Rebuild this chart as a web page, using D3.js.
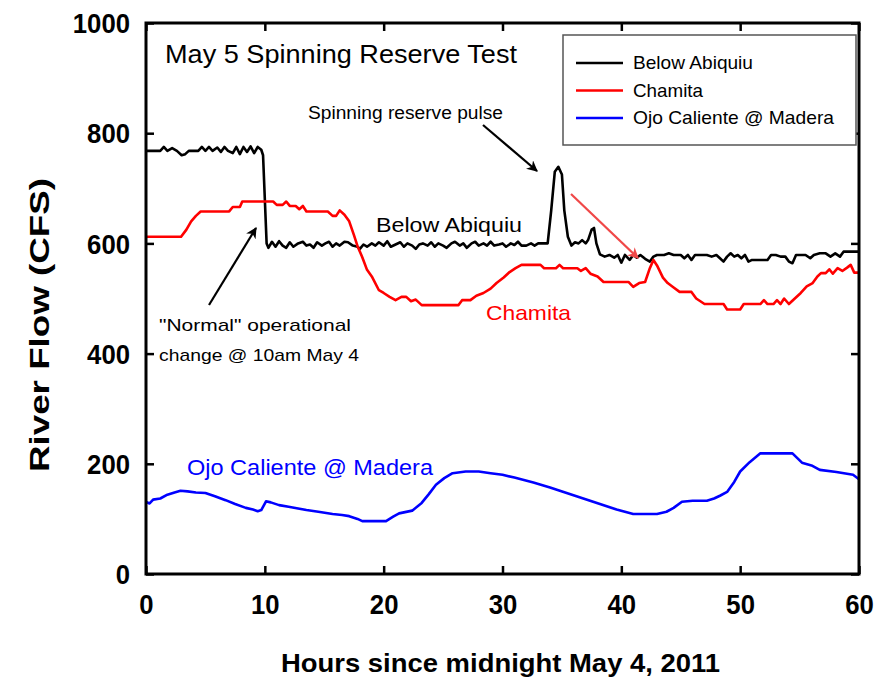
<!DOCTYPE html>
<html><head><meta charset="utf-8">
<script src="https://cdn.jsdelivr.net/npm/d3@7"></script>
<style>body{margin:0;background:#fff}svg{display:block}text{font-family:"Liberation Sans",Arial,sans-serif}</style>
</head><body>
<script>
const xTicks = [0,10,20,30,40,50,60];
const yTicks = [0,200,400,600,800,1000];
const seriesNames = ["Below Abiquiu","Chamita","Ojo Caliente @ Madera"];
const seriesColors = ["#000000","#ff0000","#0000ff"];

const belowAbiquiu = [[0,768],[1.2,768],[1.5,775],[1.8,768],[2.2,773],[2.6,768],[3.0,760],[3.3,762],[3.6,768],[4.4,768],[4.7,775],[5.0,768],[5.3,775],[5.6,768],[6.0,774],[6.3,766],[6.6,775],[6.9,768],[7.3,764],[7.6,775],[7.9,762],[8.2,775],[8.5,766],[8.8,776],[9.1,764],[9.4,775],[9.7,770],[9.85,760],[10.0,680],[10.15,600],[10.3,592],[10.6,603],[10.9,594],[11.2,604],[11.5,596],[11.8,592],[12.1,602],[12.4,594],[12.8,600],[13.2,603],[13.5,596],[13.8,598],[14.1,592],[14.4,602],[14.8,596],[15.1,600],[15.4,603],[15.7,594],[16.0,600],[16.3,596],[16.7,603],[17.0,602],[17.4,596],[17.8,594],[18.0,590],[18.3,598],[18.6,594],[19.0,600],[19.3,596],[19.6,602],[20.0,596],[20.3,604],[20.6,594],[21.0,598],[21.4,602],[21.7,594],[22.0,600],[22.4,596],[22.7,590],[23.0,598],[23.3,600],[23.7,596],[24.0,602],[24.3,594],[24.6,600],[25.0,596],[25.3,592],[25.7,600],[26.0,603],[26.4,596],[26.7,600],[27.0,592],[27.4,600],[27.7,603],[28.0,596],[28.4,600],[28.7,596],[29.0,603],[29.3,596],[29.7,598],[30.0,600],[30.3,594],[30.7,600],[31.0,597],[31.3,603],[31.6,596],[32.0,596],[32.4,600],[32.7,596],[33.0,600],[33.5,600],[33.8,600],[34.1,660],[34.4,730],[34.7,739],[35.0,725],[35.2,660],[35.5,612],[35.8,596],[36.1,602],[36.4,600],[36.7,606],[37.0,600],[37.2,606],[37.5,625],[37.7,628],[37.9,600],[38.2,580],[38.6,576],[39.0,579],[39.4,574],[39.7,579],[40.0,565],[40.3,579],[40.7,570],[41.0,579],[41.3,574],[41.6,579],[42.0,572],[42.4,567],[42.7,576],[43.0,579],[43.6,579],[44.0,582],[44.4,579],[45.0,579],[45.3,573],[45.6,579],[45.9,570],[46.2,579],[46.7,579],[47.2,579],[47.6,576],[48.0,579],[48.3,573],[48.6,567],[48.9,576],[49.2,582],[49.5,576],[49.8,579],[50.1,573],[50.4,579],[50.7,567],[51.0,570],[51.5,570],[52.3,570],[52.6,579],[53.0,579],[53.4,576],[53.8,576],[54.1,567],[54.4,564],[54.7,579],[55.1,579],[55.5,579],[55.9,573],[56.2,579],[56.7,582],[57.2,582],[57.6,576],[58.0,582],[58.4,576],[58.7,585],[59.3,585],[60,585]];

const chamita = [[0,612],[2.95,612],[3.4,625],[3.8,640],[4.2,650],[4.6,658],[7.0,658],[7.3,666],[7.9,666],[8.1,676],[10.7,676],[11.0,670],[11.5,670],[11.8,676],[12.1,668],[12.6,668],[12.9,662],[13.2,668],[13.5,658],[15.3,658],[15.7,650],[16.0,650],[16.3,660],[16.7,652],[17.1,640],[17.5,615],[17.8,595],[18.2,575],[18.6,552],[19.0,540],[19.6,515],[20.0,510],[20.5,503],[21.0,497],[21.5,503],[21.9,503],[22.3,495],[22.7,498],[23.2,488],[26.3,488],[26.6,497],[27.3,497],[27.8,505],[28.4,510],[29.0,518],[29.5,528],[30.1,538],[30.6,548],[31.1,555],[31.6,561],[33.2,561],[33.5,555],[34.5,555],[34.8,561],[35.1,555],[36.3,555],[36.6,550],[37.0,555],[37.4,545],[38.0,540],[38.5,530],[40.6,530],[41.0,521],[41.5,528],[42.0,530],[42.4,555],[42.7,570],[43.0,560],[43.5,538],[43.9,528],[44.4,520],[44.9,512],[45.9,512],[46.3,500],[47.0,490],[48.6,490],[48.9,480],[50.0,480],[50.3,490],[51.7,490],[52.0,497],[52.3,490],[52.8,490],[53.1,497],[53.4,490],[53.7,500],[54.1,490],[54.6,500],[55.1,510],[55.6,522],[56.1,528],[56.5,540],[56.8,546],[57.2,546],[57.5,553],[57.8,545],[58.2,555],[58.6,550],[59.0,556],[59.3,561],[59.6,547],[60,547]];

const ojoCaliente = [[0,131],[0.3,128],[0.6,135],[1.2,137],[1.8,144],[2.4,148],[2.9,151],[3.5,150],[4.2,148],[5.0,147],[5.8,141],[6.7,134],[7.5,127],[8.4,120],[9.0,117],[9.4,114],[9.7,116],[10.1,132],[10.5,130],[11.2,125],[12.0,122],[12.8,119],[13.5,116],[14.5,113],[15.7,109],[16.5,107],[17.1,105],[17.8,100],[18.2,96],[20.2,96],[20.8,104],[21.3,110],[22.4,115],[23.2,129],[23.8,145],[24.4,162],[25.1,174],[25.8,183],[26.9,186],[28.0,186],[29.0,183],[30.0,180],[31.0,175],[32.6,166],[34.0,157],[35.4,147],[36.8,137],[38.2,127],[39.6,117],[41.0,109],[43.0,109],[43.8,113],[44.4,120],[45.1,131],[46.0,133],[47.2,133],[47.8,137],[48.3,142],[48.9,149],[49.5,167],[50.0,186],[50.8,203],[51.2,210],[51.7,219],[54.4,219],[55.2,202],[56.0,197],[56.7,189],[58.1,185],[59.5,180],[60,172]];

const allSeries = [belowAbiquiu, chamita, ojoCaliente];

const W = 886, H = 677;
const L = 146, R = 859, T = 23, B = 574;
const svg = d3.select("body").append("svg").attr("width", W).attr("height", H);
const x = d3.scaleLinear().domain([0,60]).range([L,R]);
const y = d3.scaleLinear().domain([0,1000]).range([B,T]);

svg.append("defs").selectAll("marker").data([["ak","#000"],["ar","#f04848"]]).join("marker")
  .attr("id", d=>d[0]).attr("viewBox","0 0 10 10").attr("refX",9).attr("refY",5)
  .attr("markerWidth",5).attr("markerHeight",5).attr("orient","auto").attr("markerUnits","strokeWidth")
  .append("path").attr("d","M0,0 L10,5 L0,10 L3,5 Z").attr("fill", d=>d[1]);

// axes with inward ticks
const tickLen = 8;
const fmt = d3.format("d");
const gB = svg.append("g").attr("transform",`translate(0,${B})`)
  .call(d3.axisBottom(x).tickValues(xTicks).tickFormat(fmt).tickSize(-tickLen).tickPadding(21));
const gT = svg.append("g").attr("transform",`translate(0,${T})`)
  .call(d3.axisTop(x).tickValues(xTicks).tickSize(-tickLen).tickFormat(""));
const gL = svg.append("g").attr("transform",`translate(${L},0)`)
  .call(d3.axisLeft(y).tickValues(yTicks).tickFormat(fmt).tickSize(-tickLen).tickPadding(16));
const gR = svg.append("g").attr("transform",`translate(${R},0)`)
  .call(d3.axisRight(y).tickValues(yTicks).tickSize(-tickLen).tickFormat(""));
[gB,gT,gL,gR].forEach(g=>{
  g.select(".domain").remove();
  g.selectAll(".tick line").attr("stroke","#000").attr("stroke-width",2.5);
  g.selectAll(".tick text").attr("fill","#000").attr("font-size",27).attr("font-weight","bold")
   .style("font-family","'Liberation Sans',Arial,sans-serif")
   .attr("textLength", function(){ return this.textContent.length*14.3; })
   .attr("lengthAdjust","spacingAndGlyphs");
});
gL.selectAll(".tick text").attr("dy","0.36em");

// series
const line = d3.line().x(d=>x(d[0])).y(d=>y(d[1]));
svg.append("g").selectAll("path").data(allSeries).join("path")
  .attr("d", line).attr("fill","none").attr("stroke",(d,i)=>seriesColors[i])
  .attr("stroke-width",2.6).attr("stroke-linejoin","round");

// frame
svg.append("rect").attr("x",L).attr("y",T).attr("width",R-L).attr("height",B-T)
  .attr("fill","none").attr("stroke","#000").attr("stroke-width",3);

// axis titles
svg.append("text").attr("x",(L+R)/2-2).attr("y",672).attr("text-anchor","middle")
  .attr("font-size",26).attr("font-weight","bold").attr("textLength",439).attr("lengthAdjust","spacingAndGlyphs")
  .text("Hours since midnight May 4, 2011");
svg.append("text").attr("transform","translate(49,325) rotate(-90)").attr("text-anchor","middle")
  .attr("font-size",27).attr("font-weight","bold").attr("textLength",294).attr("lengthAdjust","spacingAndGlyphs")
  .text("River Flow (CFS)");

// title
svg.append("text").attr("x",165).attr("y",63).attr("font-size",26)
  .attr("textLength",352).attr("lengthAdjust","spacingAndGlyphs").text("May 5 Spinning Reserve Test");

// legend
svg.append("rect").attr("x",563).attr("y",35).attr("width",293).attr("height",110)
  .attr("fill","#fff").attr("stroke","#555").attr("stroke-width",1.5);
const legLens = [120,70,201];
const lg = svg.append("g").selectAll("g").data(seriesNames).join("g")
  .attr("transform",(d,i)=>`translate(0,${63+i*27.5})`);
lg.append("line").attr("x1",576).attr("x2",623).attr("stroke",(d,i)=>seriesColors[i]).attr("stroke-width",2.6);
lg.append("text").attr("x",633).attr("y",6).attr("font-size",19)
  .attr("textLength",(d,i)=>legLens[i]).attr("lengthAdjust","spacingAndGlyphs").text(d=>d);

// annotations
svg.append("text").attr("x",308).attr("y",119).attr("font-size",18)
  .attr("textLength",195).attr("lengthAdjust","spacingAndGlyphs").text("Spinning reserve pulse");
svg.append("line").attr("x1",483).attr("y1",125).attr("x2",537).attr("y2",171)
  .attr("stroke","#000").attr("stroke-width",2.2).attr("marker-end","url(#ak)");
svg.append("text").attr("x",376).attr("y",232).attr("font-size",21)
  .attr("textLength",146).attr("lengthAdjust","spacingAndGlyphs").text("Below Abiquiu");
svg.append("text").attr("x",486).attr("y",320).attr("font-size",21).attr("fill","#ff0000")
  .attr("textLength",85).attr("lengthAdjust","spacingAndGlyphs").text("Chamita");
svg.append("text").attr("x",187).attr("y",475).attr("font-size",22).attr("fill","#0000ff")
  .attr("textLength",246).attr("lengthAdjust","spacingAndGlyphs").text("Ojo Caliente @ Madera");
svg.append("text").attr("x",159).attr("y",331).attr("font-size",17)
  .attr("textLength",192).attr("lengthAdjust","spacingAndGlyphs").text("\"Normal\" operational");
svg.append("text").attr("x",159).attr("y",361).attr("font-size",17)
  .attr("textLength",200).attr("lengthAdjust","spacingAndGlyphs").text("change @ 10am May 4");
svg.append("line").attr("x1",209).attr("y1",305).attr("x2",256).attr("y2",228)
  .attr("stroke","#000").attr("stroke-width",2.2).attr("marker-end","url(#ak)");
svg.append("line").attr("x1",571).attr("y1",194).attr("x2",638).attr("y2",258)
  .attr("stroke","#f04848").attr("stroke-width",2.2).attr("marker-end","url(#ar)");
</script>
</body></html>
